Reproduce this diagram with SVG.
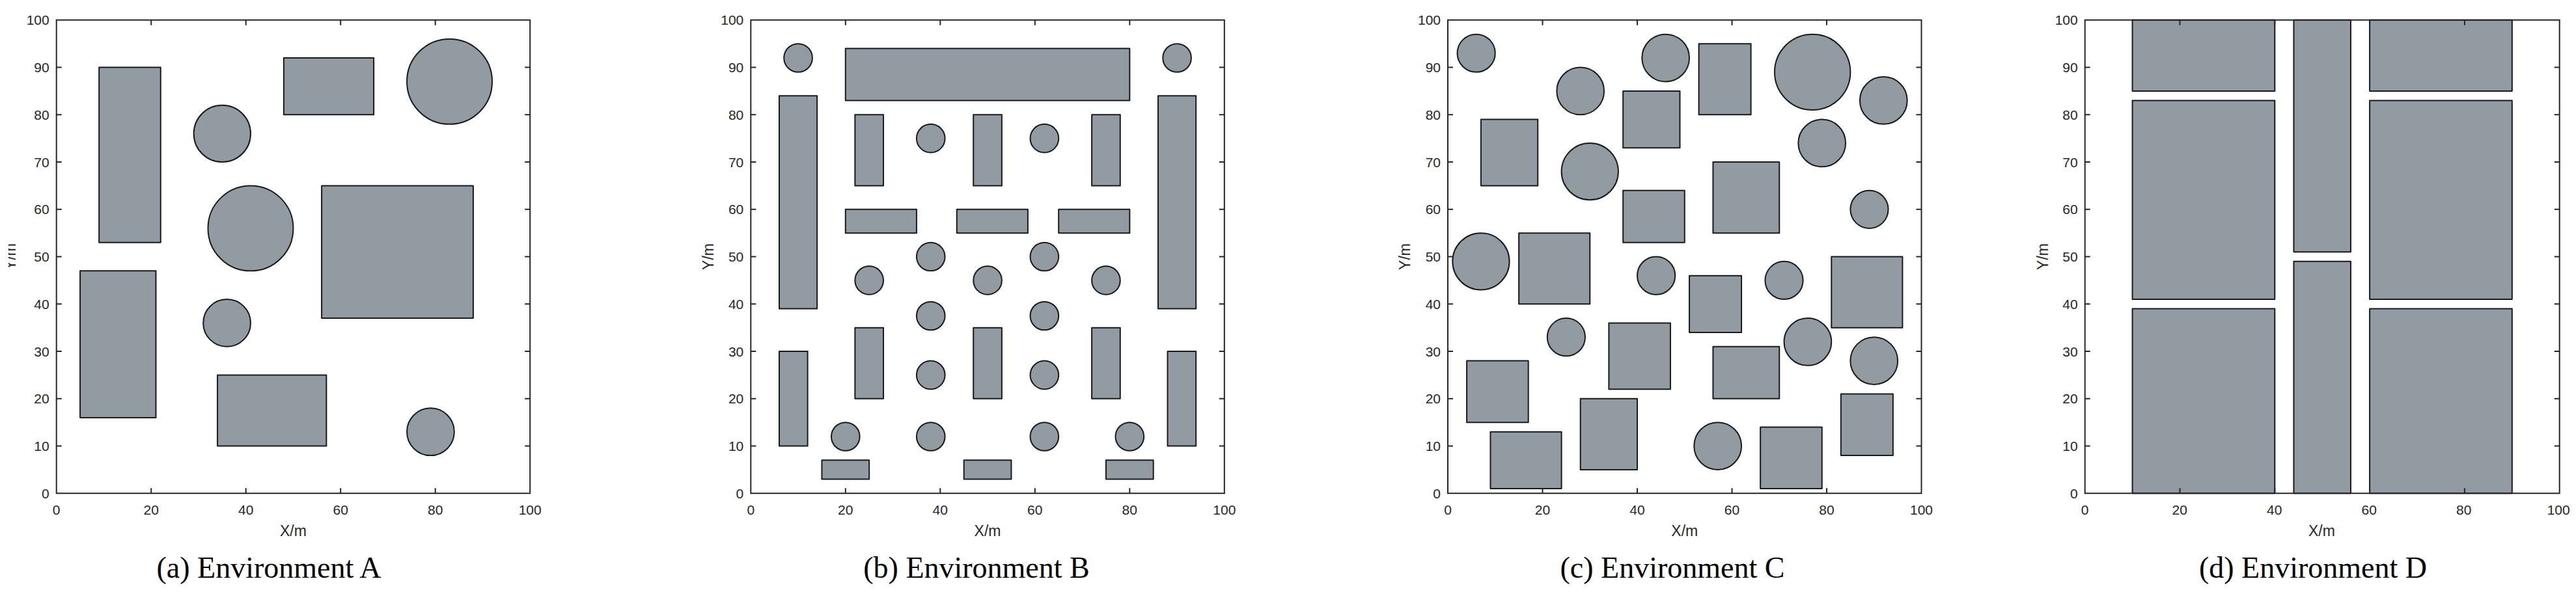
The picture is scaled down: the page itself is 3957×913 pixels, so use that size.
<svg xmlns="http://www.w3.org/2000/svg" xmlns:xlink="http://www.w3.org/1999/xlink" width="3957" height="913" viewBox="0 0 3957 913">
<style>
.ob{fill:#939ba2;stroke:#1a1a1a;stroke-width:2;vector-effect:non-scaling-stroke;stroke-linejoin:round}
.ax{fill:none;stroke:#262626;stroke-width:2;vector-effect:non-scaling-stroke}
.tl{font-family:"Liberation Sans",Arial,sans-serif;font-size:21px;fill:#262626}
.yl{text-anchor:end}
.xl{text-anchor:middle}
.al{font-family:"Liberation Sans",Arial,sans-serif;font-size:23px;fill:#262626;text-anchor:middle}
.cap{font-family:"Liberation Serif","Times New Roman",serif;font-size:46px;fill:#000;text-anchor:middle}
</style>
<defs>
<path id="axesFrame" class="ax" d="M0,0H100V100H0Z M20,0v1.1M40,0v1.1M60,0v1.1M80,0v1.1 M20,100v-1.1M40,100v-1.1M60,100v-1.1M80,100v-1.1 M0,10h1.1M0,20h1.1M0,30h1.1M0,40h1.1M0,50h1.1M0,60h1.1M0,70h1.1M0,80h1.1M0,90h1.1 M100,10h-1.1M100,20h-1.1M100,30h-1.1M100,40h-1.1M100,50h-1.1M100,60h-1.1M100,70h-1.1M100,80h-1.1M100,90h-1.1"/>
<g id="tickLabels" class="tl">
<text class="xl" x="0" y="791">0</text>
<text class="xl" x="145.5" y="791">20</text>
<text class="xl" x="291" y="791">40</text>
<text class="xl" x="436.5" y="791">60</text>
<text class="xl" x="582" y="791">80</text>
<text class="xl" x="727.5" y="791">100</text>
<text class="yl" x="-11" y="765.8">0</text>
<text class="yl" x="-11" y="693.05">10</text>
<text class="yl" x="-11" y="620.3">20</text>
<text class="yl" x="-11" y="547.55">30</text>
<text class="yl" x="-11" y="474.8">40</text>
<text class="yl" x="-11" y="402.05">50</text>
<text class="yl" x="-11" y="329.3">60</text>
<text class="yl" x="-11" y="256.55">70</text>
<text class="yl" x="-11" y="183.8">80</text>
<text class="yl" x="-11" y="111.05">90</text>
<text class="yl" x="-11" y="38.3">100</text>
<text class="al" x="363.75" y="824">X/m</text>
</g>
<clipPath id="clipA"><rect x="13" y="0" width="300" height="913"/></clipPath>
</defs>
<rect x="0" y="0" width="3957" height="913" fill="#ffffff"/>

<g id="envA">
<g transform="translate(86.7,758.3) scale(7.275,-7.275)">
<rect class="ob" x="9" y="53" width="13" height="37"/>
<rect class="ob" x="5" y="16" width="16" height="31"/>
<rect class="ob" x="48" y="80" width="19" height="12"/>
<rect class="ob" x="56" y="37" width="32" height="28"/>
<rect class="ob" x="34" y="10" width="23" height="15"/>
<circle class="ob" cx="35" cy="76" r="6"/>
<circle class="ob" cx="41" cy="56" r="9"/>
<circle class="ob" cx="36" cy="36" r="5"/>
<circle class="ob" cx="83" cy="87" r="9"/>
<circle class="ob" cx="79" cy="13" r="5"/>
<use xlink:href="#axesFrame" href="#axesFrame"/>
</g>
<use xlink:href="#tickLabels" href="#tickLabels" transform="translate(86.7,0)"/>
<g clip-path="url(#clipA)"><text class="al" transform="translate(24,394.5) rotate(-90)">Y/m</text></g>
<text class="cap" x="413" y="888">(a) Environment A</text>
</g>

<g id="envB">
<g transform="translate(1153.3,758.3) scale(7.275,-7.275)">
<circle class="ob" cx="10" cy="92" r="3"/>
<circle class="ob" cx="90" cy="92" r="3"/>
<rect class="ob" x="20" y="83" width="60" height="11"/>
<rect class="ob" x="6" y="39" width="8" height="45"/>
<rect class="ob" x="86" y="39" width="8" height="45"/>
<rect class="ob" x="22" y="65" width="6" height="15"/>
<rect class="ob" x="47" y="65" width="6" height="15"/>
<rect class="ob" x="72" y="65" width="6" height="15"/>
<circle class="ob" cx="38" cy="75" r="3"/>
<circle class="ob" cx="62" cy="75" r="3"/>
<rect class="ob" x="20" y="55" width="15" height="5"/>
<rect class="ob" x="43.5" y="55" width="15" height="5"/>
<rect class="ob" x="65" y="55" width="15" height="5"/>
<circle class="ob" cx="38" cy="50" r="3"/>
<circle class="ob" cx="62" cy="50" r="3"/>
<circle class="ob" cx="25" cy="45" r="3"/>
<circle class="ob" cx="50" cy="45" r="3"/>
<circle class="ob" cx="75" cy="45" r="3"/>
<circle class="ob" cx="38" cy="37.5" r="3"/>
<circle class="ob" cx="62" cy="37.5" r="3"/>
<rect class="ob" x="22" y="20" width="6" height="15"/>
<rect class="ob" x="47" y="20" width="6" height="15"/>
<rect class="ob" x="72" y="20" width="6" height="15"/>
<circle class="ob" cx="38" cy="25" r="3"/>
<circle class="ob" cx="62" cy="25" r="3"/>
<rect class="ob" x="6" y="10" width="6" height="20"/>
<rect class="ob" x="88" y="10" width="6" height="20"/>
<circle class="ob" cx="20" cy="12" r="3"/>
<circle class="ob" cx="38" cy="12" r="3"/>
<circle class="ob" cx="62" cy="12" r="3"/>
<circle class="ob" cx="80" cy="12" r="3"/>
<rect class="ob" x="15" y="3" width="10" height="4"/>
<rect class="ob" x="45" y="3" width="10" height="4"/>
<rect class="ob" x="75" y="3" width="10" height="4"/>
<use xlink:href="#axesFrame" href="#axesFrame"/>
</g>
<use xlink:href="#tickLabels" href="#tickLabels" transform="translate(1153.3,0)"/>
<text class="al" transform="translate(1096,394.5) rotate(-90)">Y/m</text>
<text class="cap" x="1500" y="888">(b) Environment B</text>
</g>

<g id="envC">
<g transform="translate(2224,758.3) scale(7.275,-7.275)">
<circle class="ob" cx="6" cy="93" r="4"/>
<circle class="ob" cx="46" cy="92" r="5"/>
<rect class="ob" x="53" y="80" width="11" height="15"/>
<circle class="ob" cx="77" cy="89" r="8"/>
<circle class="ob" cx="92" cy="83" r="5"/>
<circle class="ob" cx="28" cy="85" r="5"/>
<rect class="ob" x="37" y="73" width="12" height="12"/>
<rect class="ob" x="7" y="65" width="12" height="14"/>
<circle class="ob" cx="30" cy="68" r="6"/>
<circle class="ob" cx="79" cy="74" r="5"/>
<rect class="ob" x="37" y="53" width="13" height="11"/>
<rect class="ob" x="56" y="55" width="14" height="15"/>
<circle class="ob" cx="89" cy="60" r="4"/>
<circle class="ob" cx="7" cy="49" r="6"/>
<rect class="ob" x="15" y="40" width="15" height="15"/>
<circle class="ob" cx="44" cy="46" r="4"/>
<rect class="ob" x="51" y="34" width="11" height="12"/>
<circle class="ob" cx="71" cy="45" r="4"/>
<rect class="ob" x="81" y="35" width="15" height="15"/>
<circle class="ob" cx="25" cy="33" r="4"/>
<rect class="ob" x="34" y="22" width="13" height="14"/>
<rect class="ob" x="56" y="20" width="14" height="11"/>
<circle class="ob" cx="76" cy="32" r="5"/>
<circle class="ob" cx="90" cy="28" r="5"/>
<rect class="ob" x="4" y="15" width="13" height="13"/>
<rect class="ob" x="9" y="1" width="15" height="12"/>
<rect class="ob" x="28" y="5" width="12" height="15"/>
<circle class="ob" cx="57" cy="10" r="5"/>
<rect class="ob" x="66" y="1" width="13" height="13"/>
<rect class="ob" x="83" y="8" width="11" height="13"/>
<use xlink:href="#axesFrame" href="#axesFrame"/>
</g>
<use xlink:href="#tickLabels" href="#tickLabels" transform="translate(2224,0)"/>
<text class="al" transform="translate(2166,394.5) rotate(-90)">Y/m</text>
<text class="cap" x="2569" y="888">(c) Environment C</text>
</g>

<g id="envD">
<g transform="translate(3202.7,758.3) scale(7.29,-7.275)">
<rect class="ob" x="10" y="85" width="30" height="15"/>
<rect class="ob" x="10" y="41" width="30" height="42"/>
<rect class="ob" x="10" y="0" width="30" height="39"/>
<rect class="ob" x="44" y="51" width="12" height="49"/>
<rect class="ob" x="44" y="0" width="12" height="49"/>
<rect class="ob" x="60" y="85" width="30" height="15"/>
<rect class="ob" x="60" y="41" width="30" height="42"/>
<rect class="ob" x="60" y="0" width="30" height="39"/>
<use xlink:href="#axesFrame" href="#axesFrame"/>
</g>
<use xlink:href="#tickLabels" href="#tickLabels" transform="translate(3202.7,0) scale(1,1)"/>
<text class="al" transform="translate(3146,394.5) rotate(-90)">Y/m</text>
<text class="cap" x="3553" y="888">(d) Environment D</text>
</g>
</svg>
